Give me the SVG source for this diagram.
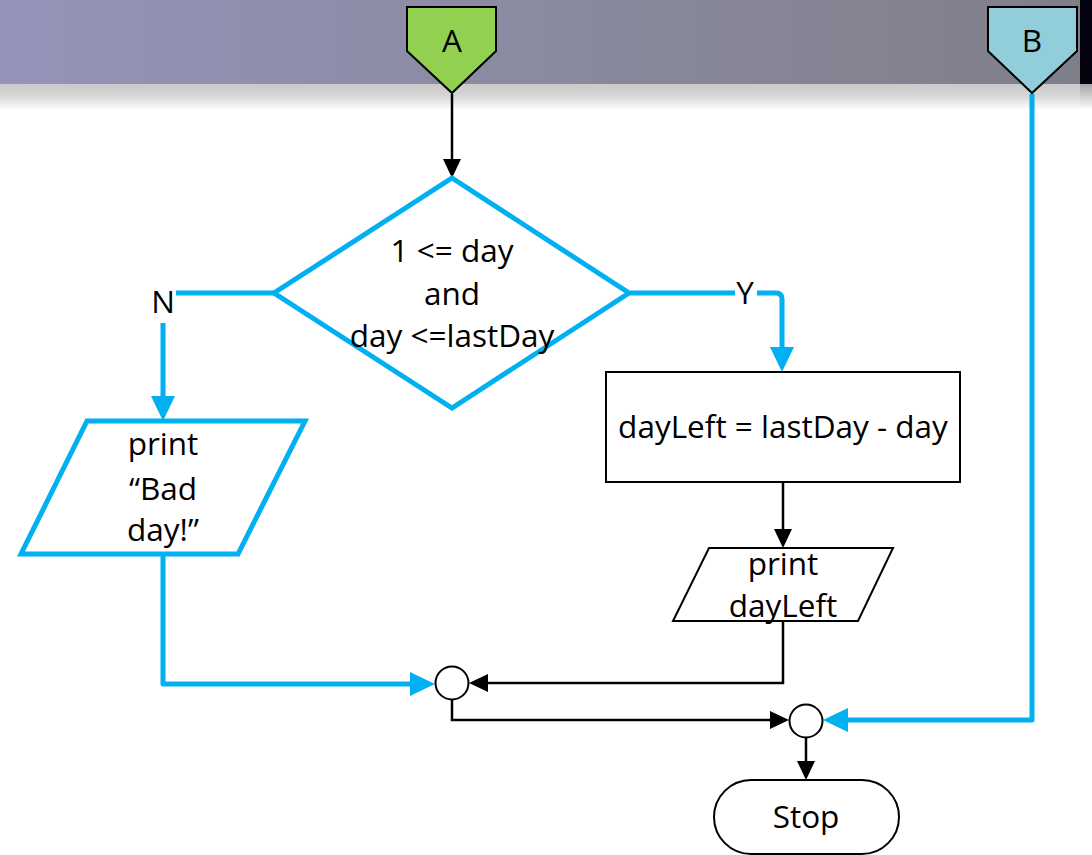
<svg xmlns="http://www.w3.org/2000/svg" width="1092" height="855" viewBox="0 0 1092 855">
<defs>
<linearGradient id="hdr" x1="0" y1="0" x2="1" y2="0">
<stop offset="0" stop-color="#9593ba"/>
<stop offset="0.5" stop-color="#8a8aa0"/>
<stop offset="1" stop-color="#7f7f88"/>
</linearGradient>
<linearGradient id="shade" x1="0" y1="0" x2="0" y2="1">
<stop offset="0" stop-color="#c9c9c9"/>
<stop offset="0.45" stop-color="#d6d6d6"/>
<stop offset="1" stop-color="#ffffff"/>
</linearGradient>
<linearGradient id="shade2" x1="0" y1="0" x2="0" y2="1">
<stop offset="0" stop-color="#a5a5a5"/>
<stop offset="1" stop-color="#ffffff"/>
</linearGradient>
<marker id="ab" markerUnits="userSpaceOnUse" markerWidth="25" markerHeight="24" refX="17" refY="12" orient="auto">
<path d="M0,0 L25,12 L0,24 z" fill="#00b0f0"/>
</marker>
<marker id="ak" markerUnits="userSpaceOnUse" markerWidth="19" markerHeight="18" refX="13" refY="9" orient="auto">
<path d="M0,0 L19,9 L0,18 z" fill="#000"/>
</marker>
</defs>
<style>
.t{font-family:"Open Sans","Liberation Sans",sans-serif;font-size:31.5px;fill:#000;text-anchor:middle}
.blue{fill:none;stroke:#00b0f0;stroke-width:5;stroke-linejoin:round}
.blk{fill:none;stroke:#000;stroke-width:2.5}
.bshape{fill:#fff;stroke:#00b0f0;stroke-width:5;stroke-linejoin:miter}
.kshape{fill:#fff;stroke:#000;stroke-width:2}
</style>
<g id="background">
<rect x="0" y="0" width="1092" height="84" fill="url(#hdr)"/>
<rect x="0" y="84" width="1092" height="26" fill="url(#shade)"/>
<rect x="1080" y="0" width="12" height="84" fill="#050310"/>
<rect x="1080" y="84" width="12" height="26" fill="url(#shade2)"/>
</g>
<g id="connectors">
<path class="blk" d="M452,94 V172" marker-end="url(#ak)"/>
<path class="blue" d="M274,293 H176"/>
<path class="blue" d="M163,323 V413" marker-end="url(#ab)"/>
<path class="blue" d="M630,293 H735"/>
<path class="blue" d="M757,293 H776 Q782,293 782,299 V364" marker-end="url(#ab)"/>
<path class="blk" d="M783,482 V542" marker-end="url(#ak)"/>
<path class="blue" d="M163,554 V684 H427" marker-end="url(#ab)"/>
<path class="blk" d="M783,621 V683 H475" marker-end="url(#ak)"/>
<path class="blk" d="M452,700 V720 H783" marker-end="url(#ak)"/>
<path class="blue" d="M1032,94 V720 H831" marker-end="url(#ab)"/>
<path class="blk" d="M806,738 V774" marker-end="url(#ak)"/>
<text class="t" x="163" y="313">N</text>
<text class="t" x="745" y="304">Y</text>
</g>
<g id="connA">
<path d="M407,7 H496 V51 L452,93 L407,51 Z" fill="#92d050" stroke="#000" stroke-width="2"/>
<text class="t" x="452" y="52">A</text>
</g>
<g id="connB">
<path d="M988,7 H1077 V51 L1032,93 L988,51 Z" fill="#92cddc" stroke="#000" stroke-width="2"/>
<text class="t" x="1032" y="52">B</text>
</g>
<g id="decision">
<path class="bshape" d="M452,178 L629,293 L452,408 L274,293 Z"/>
<text class="t" x="452" y="262">1 &lt;= day</text>
<text class="t" x="452" y="305">and</text>
<text class="t" x="452" y="347">day &lt;=lastDay</text>
</g>
<g id="badday">
<path class="bshape" d="M87,421 H305 L238,554 H21 Z"/>
<text class="t" x="163" y="455">print</text>
<text class="t" x="163" y="500">“Bad</text>
<text class="t" x="163" y="541">day!”</text>
</g>
<g id="calc">
<rect class="kshape" x="606" y="372" width="354" height="110"/>
<text class="t" x="783" y="438">dayLeft = lastDay - day</text>
</g>
<g id="printleft">
<path class="kshape" d="M709,548 H893 L858,621 H673 Z"/>
<text class="t" x="783" y="575">print</text>
<text class="t" x="783" y="617">dayLeft</text>
</g>
<g id="join1">
<circle class="kshape" cx="452" cy="683" r="16.5"/>
</g>
<g id="join2">
<circle class="kshape" cx="806" cy="721" r="16.5"/>
</g>
<g id="stop">
<rect class="kshape" x="714" y="780" width="185" height="74" rx="37"/>
<text class="t" x="806" y="828">Stop</text>
</g>
</svg>
